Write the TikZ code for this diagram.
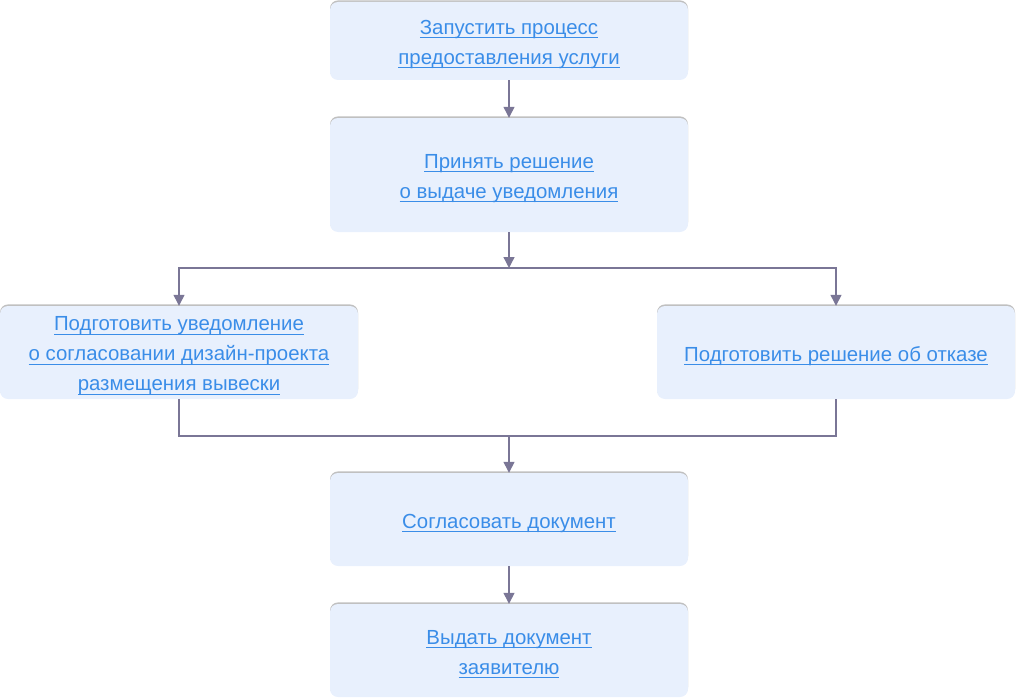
\documentclass[tikz,border=0pt]{standalone}
\usepackage{fontspec}
\setmainfont{Liberation Sans}
\usetikzlibrary{arrows.meta, shadows}
\definecolor{boxfill}{HTML}{E8F0FD}
\definecolor{linkblue}{HTML}{3A8DE8}
\definecolor{flowline}{HTML}{7A7696}
\newcommand{\lnk}[1]{\raisebox{-3.5pt}[\height][\depth]{\setbox0=\hbox{#1}\rlap{\rule[-3.6pt]{\wd0}{1pt}}\box0}}

\begin{document}
\begin{tikzpicture}[x=1pt, y=-1pt,
	stage/.style={rounded corners=8pt, fill=boxfill, minimum width=358pt, align=center,
		text=linkblue, font=\fontsize{20.4}{30}\selectfont, inner sep=0pt,
		drop shadow={shadow xshift=0pt, shadow yshift=1.6pt, fill=black!45, opacity=0.55}},
	flow/.style={draw=flowline, line width=1.3pt},
	flowarrow/.style={flow, -{Triangle[width=11pt, length=11pt]}}]
	\useasboundingbox (0,0) rectangle (1016,698);

	\node[stage, minimum height=78pt] (start) at (509,41) {\lnk{Запустить процесс}\\\lnk{предоставления услуги}};
	\node[stage, minimum height=114pt] (decide) at (509,175) {\lnk{Принять решение}\\\lnk{о выдаче уведомления}};
	\node[stage, minimum height=93pt] (notice) at (179,352.5) {\lnk{Подготовить уведомление}\\\lnk{о согласовании дизайн-проекта}\\\lnk{размещения вывески}};
	\node[stage, minimum height=93pt] (refusal) at (836,352.5) {\lnk{Подготовить решение об отказе}};
	\node[stage, minimum height=93pt] (agree) at (509,519.5) {\lnk{Согласовать документ}};
	\node[stage, minimum height=93pt] (issue) at (509,650.5) {\lnk{Выдать документ}\\\lnk{заявителю}};

	\coordinate (split) at (509,268);
	\coordinate (join) at (509,436);

	\draw[flowarrow] (start) -- (decide);
	\draw[flowarrow] (decide) -- (split);
	\draw[flowarrow] (split) -| (notice.north);
	\draw[flowarrow] (split) -| (refusal.north);
	\draw[flow] (notice.south) |- (join);
	\draw[flow] (refusal.south) |- (join);
	\draw[flowarrow] (join) -- (agree);
	\draw[flowarrow] (agree) -- (issue);

\end{tikzpicture}
\end{document}
